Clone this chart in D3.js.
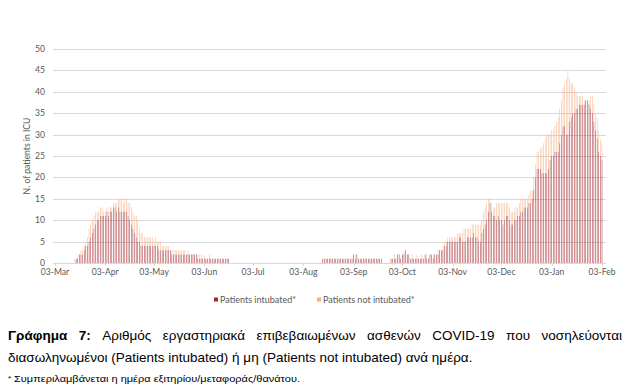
<!DOCTYPE html>
<html><head><meta charset="utf-8">
<script src="https://cdn.jsdelivr.net/npm/d3@7"></script>
<style>
html,body{margin:0;padding:0;background:#fff;}
svg{display:block;}
</style></head>
<body>
<svg id="chart" width="631" height="390"></svg>
<script>
// ---- DATA ----
const firstDay = "2020-03-03";           // first category (daily bars)
const seriesNames = ["Patients intubated*", "Patients not intubated*"];
const intubated = [
  // Mar
  0,0,0,0,0,0,0,0,0,0,0,0, 0,1,1,2,2,2,3,4,4,5,6,7,8,9,10,10,11,
  // Apr
  11,11,11,12,11, 12,12,13,13,12, 13,12,12,12,12, 12,11,10,9,8, 7,6,5,5,4, 4,4,4,4,4,
  // May
  4,4,4,4,4, 3,3,3,3,3, 3,3,3,2,2, 2,2,2,2,2, 2,2,2,2,2, 2,2,2,2,1, 1,
  // Jun
  1,1,1,1,1, 1,1,1,1,1, 1,1,1,1,1, 1,1,1,0,0, 0,0,0,0,0, 0,0,0,0,0,
  // Jul
  0,0,0,0,0, 0,0,0,0,0, 0,0,0,0,0, 0,0,0,0,0, 0,0,0,0,0, 0,0,0,0,0, 0,
  // Aug
  0,0,0,0,0, 0,0,0,0,0, 0,0,0,0, 1,1,1,1,1, 1,1,1,1,1, 1,1,1,1,1, 1,1,
  // Sep
  1,1,2,1,2,1, 1,1,1,1,1,1,1,1,1,1,1,1,1, 1,0,0,0,0,0, 1,1,1,1,2,
  // Oct
  2,1,2,2,3, 2,2,1,1,1, 1,1,1,1,1, 1,2,1,1,2, 2,1,2,2,2, 3,3,3,4,4, 5,
  // Nov
  5,5,5,5,5, 5,6,6,5,5, 5,6,6,6,6, 7,6,6,5,5, 7,8,9,10,12, 14,12,11,11,10,
  // Dec
  11,10,10,9,10, 11,11,10,9,9, 10,10,11,11,12, 12,13,13,13,14, 14,15,17,20,22, 22,22,21,21,21, 21,
  // Jan
  22,24,25,25,26, 26,26,28,30,32, 32,30,30,33,34, 35,35,36,36,37, 37,37,37,38,38, 37,36,35,33,31, 29,
  // Feb
  26,25,24
];
const notIntubated = [
  // Mar
  0,0,0,0,0,0,0,0,0,0,0,0, 1,0,1,0,1,1,1,1,2,3,3,3,3,3,2,2,2,
  // Apr
  2,1,1,1,1, 1,1,1,1,2, 2,3,3,2,3, 3,3,4,4,4, 4,5,5,3,3, 3,2,2,2,2,
  // May
  2,2,1,2,1, 2,2,1,1,1, 1,1,0,1,1, 1,1,1,1,1, 1,1,0,1,0, 0,0,0,0,1, 1,
  // Jun
  1,0,1,0,0, 1,0,0,0,0, 0,0,0,0,0, 0,0,0,0,0, 0,0,0,0,0, 0,0,0,0,0,
  // Jul
  0,0,0,0,0, 0,0,0,0,0, 0,0,0,0,0, 0,0,0,0,0, 0,0,0,0,0, 0,0,0,0,0, 0,
  // Aug
  0,0,0,0,0, 0,0,0,0,0, 0,0,0,0,0, 0,0,0,0,0, 0,0,0,0,0, 0,0,0,0,0, 0,
  // Sep
  0,0,0,1,0,0, 0,0,0,0,0,0,0,0,0,0,0,0,0, 0,0,0,0,0,0, 0,0,1,0,0,
  // Oct
  0,0,0,1,0, 0,0,0,1,0, 0,1,0,0,1, 0,0,1,0,0, 0,1,0,0,1, 0,0,1,1,1, 1,
  // Nov
  1,1,1,1,1, 2,1,1,2,3, 3,2,2,2,3, 2,3,3,4,4, 3,4,4,4,3, 1,2,2,2,4,
  // Dec
  3,4,4,5,4, 3,3,3,3,3, 2,3,2,3,3, 3,2,2,2,2, 3,2,3,3,4, 4,5,6,7,8, 9,
  // Jan
  8,6,6,6,6, 7,8,8,8,9, 10,13,15,10,8, 7,6,4,3,2, 2,2,1,0,0, 1,3,4,4,4, 5,
  // Feb
  5,4,4
];
const tickDates = ["2020-03-03","2020-04-03","2020-05-03","2020-06-03","2020-07-03","2020-08-03",
  "2020-09-03","2020-10-03","2020-11-03","2020-12-03","2021-01-03","2021-02-03"];
const tickLabels = ["03-Mar","03-Apr","03-May","03-Jun","03-Jul","03-Aug","03-Sep","03-Oct","03-Nov","03-Dec","03-Jan","03-Feb"];
const yTicks = [0,5,10,15,20,25,30,35,40,45,50];
const yTitle = "N. of patients in ICU";
const captionBold = "Γράφημα 7:";
const captionLine1 = "Αριθμός εργαστηριακά επιβεβαιωμένων ασθενών COVID-19 που νοσηλεύονται";
const captionLine2 = "διασωληνωμένοι (Patients intubated) ή μη (Patients not intubated) ανά ημέρα.";
const footnote = "Συμπεριλαμβάνεται η ημέρα εξιτηρίου/μεταφοράς/θανάτου.";

// ---- CHART ----
const parse = d3.timeParse("%Y-%m-%d");
const day0 = parse(firstDay);
const rows = intubated.map((v, i) => ({date: d3.timeDay.offset(day0, i), a: v, b: notIntubated[i]}));

const svg = d3.select("#chart");
const colors = ["#A3262A", "#F4B183"];
const font = "Lato, 'Open Sans', sans-serif";
const gray = "#595959";

const x = d3.scaleTime().domain([parse(tickDates[0]), parse(tickDates[tickDates.length-1])]).range([55, 602]);
const y = d3.scaleLinear().domain([0, 50]).range([263, 49]);
const gridX0 = 53, gridX1 = 606;

// gridlines
svg.append("g").selectAll("line").data(yTicks).join("line")
  .attr("x1", gridX0).attr("x2", gridX1)
  .attr("y1", d => Math.round(y(d)) + 0.5).attr("y2", d => Math.round(y(d)) + 0.5)
  .attr("stroke", "#d9d9d9").attr("stroke-width", 1);

// y labels
svg.append("g").selectAll("text").data(yTicks).join("text")
  .attr("x", 45).attr("y", d => y(d)).attr("dy", "0.35em")
  .attr("text-anchor", "end").attr("font-family", font).attr("font-size", 8.6).attr("fill", gray)
  .text(d => d);

// bars
const stack = d3.stack().keys(["a", "b"])(rows);
const bw = 0.5;
svg.append("g").selectAll("g").data(stack).join("g")
  .attr("fill", (d, i) => colors[i])
  .selectAll("rect").data(d => d.filter(p => p[1] > p[0])).join("rect")
  .attr("x", d => x(d.data.date) - bw/2)
  .attr("width", bw)
  .attr("y", d => y(d[1]))
  .attr("height", d => y(d[0]) - y(d[1]));

// x axis ticks + labels
const xt = svg.append("g");
xt.selectAll("line").data(tickDates).join("line")
  .attr("x1", d => Math.round(x(parse(d))) + 0.5).attr("x2", d => Math.round(x(parse(d))) + 0.5)
  .attr("y1", 263).attr("y2", 266).attr("stroke", "#d9d9d9");
xt.selectAll("text").data(tickDates).join("text")
  .attr("x", d => x(parse(d))).attr("y", 275)
  .attr("text-anchor", "middle").attr("font-family", font).attr("font-size", 8.6).attr("fill", gray)
  .text((d, i) => tickLabels[i]);

// y title
svg.append("text")
  .attr("transform", "translate(30,156) rotate(-90)")
  .attr("text-anchor", "middle").attr("font-family", font).attr("font-size", 8.6).attr("fill", gray)
  .text(yTitle);

// legend
const leg = [{x: 214, i: 0}, {x: 317, i: 1}];
leg.forEach(l => {
  svg.append("rect").attr("x", l.x).attr("y", 297.5).attr("width", 4).attr("height", 4).attr("fill", colors[l.i]);
  svg.append("text").attr("x", l.x + 6).attr("y", 302.5)
    .attr("font-family", font).attr("font-size", 9).attr("fill", gray).text(seriesNames[l.i]);
});

// caption line 1 (justified)
const capFont = "'Liberation Sans', Arial, sans-serif";
const capSize = 13.5;
const words = captionBold.split(" ").map(t => ({t, bold: true}))
  .concat(captionLine1.split(" ").map(t => ({t, bold: false})));
const tmp = words.map(w => svg.append("text").attr("font-family", capFont).attr("font-size", capSize)
  .attr("font-weight", w.bold ? "bold" : "normal").attr("fill", "#000").attr("y", 340).text(w.t));
const widths = tmp.map(t => t.node().getComputedTextLength());
const total = d3.sum(widths);
const L = 8, R = 622;
const gap = (R - L - total) / (words.length - 1);
let cx = L;
tmp.forEach((t, i) => { t.attr("x", cx); cx += widths[i] + gap; });

svg.append("text").attr("x", 8).attr("y", 361.5)
  .attr("font-family", capFont).attr("font-size", capSize).attr("fill", "#000").text(captionLine2);

svg.append("text").attr("x", 8).attr("y", 381)
  .attr("font-family", capFont).attr("font-size", 8).attr("fill", "#000").text("*");
svg.append("text").attr("x", 14).attr("y", 382)
  .attr("font-family", capFont).attr("font-size", 9.5).attr("fill", "#000")
  .attr("textLength", 286).attr("lengthAdjust", "spacingAndGlyphs").text(footnote);
</script>
</body></html>
